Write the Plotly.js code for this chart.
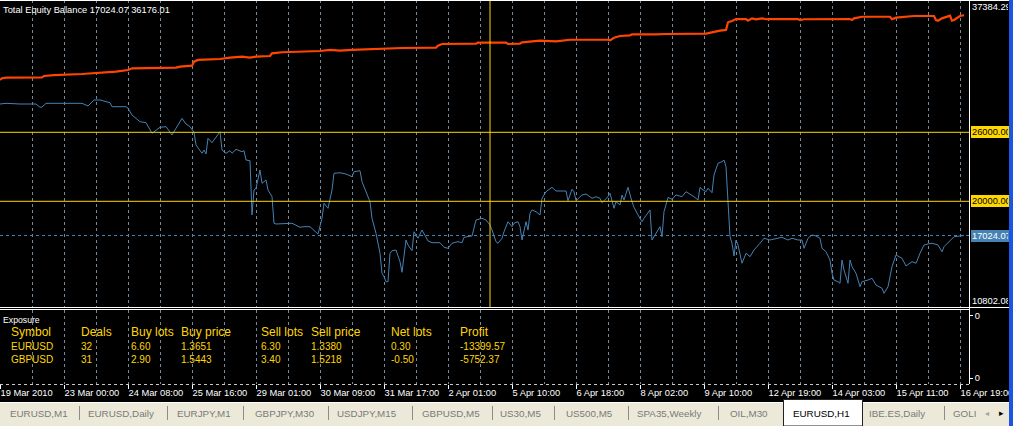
<!DOCTYPE html>
<html><head><meta charset="utf-8">
<script src="https://cdn.plot.ly/plotly-3.0.1.min.js"></script>
<style>html,body{margin:0;padding:0;background:#000;overflow:hidden}#chart{width:1013px;height:426px}</style>
</head><body><div id="chart"></div>
<script>
// ---------------- data (bar index = hourly bar from 19 Mar 2010) ----------------
const equityBars = [
0,3,10,18,20,21,23,41,44,47,
50,53,55,56,63,64,66,70,73,76,
80,83,86,88,91,93,95,97,98,101,
102,103,104,106,108,110,111,113,115,116,
118,121,122,123,125,126,127,128,130,131,
133,134,136,137,138,146,150,152,155,157,
159,161,162,164,166,167,170,173,176,177,
180,181,183,185,186,188,190,191,192,193,
194,195,196,198,200,201,203,204,206,207,
209,211,214,216,220,222,224,226,229,231,
232,235,236,238,241,243,245,246,248,249,
251,252,254,256,257,259,260,261,262,263,
264,265,266,268,270,271,273,276,278,283,
284,286,287,288,291,293,296,298,300,301,
304,305,307,308,310,311,312,314,316,317,
319,321,322,325,326,328,330,331,332,334,
336,338,341,343,346,347,349,350,351,353,
354,356,357,359,361,362,363,364,365,366,
367,368,369,371,373,375,377,380,382,385,
388,391,394,396,399,401,402,404,406,408,
410,411,413,415,416,417,419,420,421,422,
424,425,426,428,430,431,434,436,438,441,
442,444,446,448,451,453,456,458,460,462,
464,466,469,471,472,475,477,480,482];
const equityValues = [
28460,28520,28460,28460,28175,28200,28520,28520,28290,28810,
28810,28660,28575,28225,28225,28090,27500,26920,26835,25915,
26435,26490,25765,26350,27215,26720,26490,26000,24900,24175,
24460,24115,25480,25095,25565,26050,24460,24175,24400,24175,
24520,24315,24400,23590,23530,18810,20985,21130,22720,21565,
21850,20985,20400,18090,18025,18090,17740,17790,17790,17505,
17155,18520,19825,19390,20985,22435,22485,22375,22140,22575,
22660,21705,20835,19965,18520,17215,15480,13740,13445,13010,
13010,15480,15705,15765,14750,13825,16635,16200,15705,17355,
16785,17505,16550,16400,16400,16000,15915,16350,16490,16400,
16870,16985,16985,18375,18520,18375,17940,17505,16490,16350,
16785,17355,18225,17790,18090,18225,17790,16635,17505,18225,
17505,18955,19245,19095,18810,20260,20835,21215,20895,20895,
20050,21045,20835,20050,20550,20635,20260,20400,20260,19880,
20400,20695,19390,19965,19680,20550,20115,21215,19965,19480,
18810,18225,18520,19245,16635,17215,17790,16920,19100,20330,
20175,20550,20400,20835,20550,20400,20115,21215,21045,20835,
21130,20750,22285,23305,23445,23590,23010,20115,16920,16350,
15245,16635,16200,14610,15480,15185,15765,16350,16785,16635,
16785,16870,16635,16785,16635,16635,15915,16785,17070,16985,
16785,15915,15620,14895,13740,13155,13010,12870,14895,14025,
12870,14895,14315,13740,12575,13010,13155,13305,12720,12435,
12000,12575,14315,15330,15045,14375,14750,14610,15480,16200,
16290,16350,16200,15615,16050,16550,16920,16985,17024.07];
const balanceBars = [
0,1,3,21,22,27,41,46,50,58,
64,66,88,90,96,97,99,105,110,115,
121,125,128,135,136,141,152,160,165,170,
176,187,201,218,219,221,238,239,253,254,
260,261,267,270,278,283,285,304,305,307,
310,315,316,328,333,353,356,360,363,364,
366,368,373,374,376,378,381,383,385,399,
400,402,425,426,427,431,445,446,448,457,
467,468,469,471,475,476,477,479,480,482];
const balanceValues = [
30550,30700,30750,30780,30900,30980,31070,31130,31180,31270,
31420,31565,31620,31705,31790,32140,32290,32350,32375,32490,
32575,32490,32575,32635,32870,32960,33010,33070,33160,33100,
33160,33245,33330,33360,33530,33680,33705,33790,33790,33680,
33705,33825,33880,33965,33910,33965,34050,34050,34000,34225,
34375,34435,34520,34520,34550,34575,34700,34835,34900,35565,
35680,35850,35850,35705,35910,35830,35910,35830,35850,35850,
35765,35830,35850,35765,35910,36050,36050,35830,35965,36115,
36115,35765,35705,35910,36140,35705,35765,36050,36115,36176.01];
const timeTickBars = [0,32,64,96,128,160,192,224,256,288,320,352,384,416,448,480];
const timeTickLabels = ['19 Mar 2010','23 Mar 00:00','24 Mar 08:00','25 Mar 16:00','29 Mar 01:00','30 Mar 09:00',
  '31 Mar 17:00','2 Apr 01:00','5 Apr 10:00','6 Apr 18:00','8 Apr 02:00','9 Apr 10:00','12 Apr 19:00',
  '14 Apr 03:00','15 Apr 11:00','16 Apr 19:00'];
const gridBars = [16,32,48,64,80,96,112,128,144,160,176,192,208,224,240,256,272,288,304,320,336,352,368,384,400,416,432,448,464,480];
const minorGridBars = [16,48,80,112,144,176,208,240,272,304,336,368,400,432,464];
const levelValues = [26000, 20000];
const equityLast = 17024.07;
const balanceLast = 36176.01;
const scaleMax = 37384.29;
const scaleMin = 10802.08;
const markerBars = [245];
const exposureHeaders = ['Symbol','Deals','Buy lots','Buy price','Sell lots','Sell price','Net lots','Profit'];
const exposureRow1 = ['EURUSD','32','6.60','1.3651','6.30','1.3380','0.30','-13399.57'];
const exposureRow2 = ['GBPUSD','31','2.90','1.5443','3.40','1.5218','-0.50','-5752.37'];
const tabLabels = ['EURUSD,M1','EURUSD,Daily','EURJPY,M1','GBPJPY,M30','USDJPY,M15','GBPUSD,M5','US30,M5',
  'US500,M5','SPA35,Weekly','OIL,M30','EURUSD,H1','IBE.ES,Daily','GOLI'];
const activeTab = 'EURUSD,H1';

// ---------------- layout geometry ----------------
const W = 1013, H = 426;
const px = x => x / W, py = y => 1 - y / H;
const plotRight = 969, mainBottom = 307.5, subTop = 309.5, subBottom = 384, tabTop = 402, borderX = 1009;
const xDom = [0, px(plotRight)];
const xRange = [0, 484.5];
const yRange = [10765, 37504.4];
const colCols = [11, 81, 131, 181, 261, 311, 391, 460];
const tabX = [10, 88, 177, 255, 337, 422, 500, 566, 637, 730, 793, 869, 953];
const sepX = [79, 167, 243, 328, 412, 492, 554, 628, 718, 944];
const GOLD = '#FFD700', STEEL = '#4682B4', ORANGE = '#FF4500', GRID = '#778899';
const FONT = 'Liberation Sans, Arial, sans-serif';

const traces = [
  {x: balanceBars, y: balanceValues, type: 'scatter', mode: 'lines', xaxis: 'x', yaxis: 'y',
   line: {color: ORANGE, width: 2.2}, hoverinfo: 'skip'},
  {x: equityBars, y: equityValues, type: 'scatter', mode: 'lines', xaxis: 'x', yaxis: 'y',
   line: {color: STEEL, width: 1}, hoverinfo: 'skip'},
  {x: [], y: [], type: 'scatter', mode: 'lines', xaxis: 'x2', yaxis: 'y2', hoverinfo: 'skip'}
];

const shapes = [];
const hline = (y, x0, x1, color, dash) => shapes.push({type: 'line', xref: 'paper', yref: 'paper',
  x0: px(x0), x1: px(x1), y0: py(y), y1: py(y), line: {color, width: 1, dash: dash || 'solid'}, layer: 'above'});
const vline = (x, y0, y1, color) => shapes.push({type: 'line', xref: 'paper', yref: 'paper',
  x0: px(x), x1: px(x), y0: py(y0), y1: py(y1), line: {color, width: 1}, layer: 'above'});

levelValues.forEach(v => shapes.push({type: 'line', xref: 'paper', x0: 0, x1: px(plotRight), yref: 'y', y0: v, y1: v,
  line: {color: GOLD, width: 1}, layer: 'above'}));
shapes.push({type: 'line', xref: 'paper', x0: 0, x1: px(plotRight), yref: 'y', y0: equityLast, y1: equityLast,
  line: {color: STEEL, width: 1, dash: '3px,3px'}, layer: 'above'});
markerBars.forEach(b => shapes.push({type: 'line', xref: 'x', x0: b, x1: b, yref: 'paper', y0: py(mainBottom), y1: 1,
  line: {color: GOLD, width: 1}, layer: 'above'}));
// window borders
hline(0.5, 0, borderX, '#ffffff');
hline(mainBottom, 0, borderX, '#ffffff');
hline(subTop, 0, plotRight, '#ffffff');
vline(plotRight + 0.5, 0, subBottom, '#ffffff');
hline(subBottom + 0.5, 0, plotRight, '#c8c8c8', '3px,3px');
// tab bar
shapes.push({type: 'rect', xref: 'paper', yref: 'paper', x0: 0, x1: px(borderX), y0: 0, y1: py(tabTop),
  fillcolor: '#ECE9D8', line: {width: 0}, layer: 'above'});
hline(tabTop + 0.5, 0, borderX, '#ffffff');
sepX.forEach(x => vline(x + 0.5, 406, 420, '#8c8c8c'));
const ai = tabLabels.indexOf(activeTab);
shapes.push({type: 'rect', xref: 'paper', yref: 'paper', x0: px(783.5), x1: px(862.5), y0: py(426), y1: py(399.5),
  fillcolor: '#ffffff', line: {color: '#222222', width: 1}, layer: 'above'});
// right blue frame
shapes.push({type: 'rect', xref: 'paper', yref: 'paper', x0: px(borderX), x1: 1, y0: 0, y1: 1,
  fillcolor: '#1A55E3', line: {width: 0}, layer: 'above'});

const annotations = [];
const txt = (text, x, y, o) => annotations.push(Object.assign({text, xref: 'paper', yref: 'paper', x: px(x), y: py(y),
  xanchor: 'left', yanchor: 'middle', showarrow: false, borderpad: 0, borderwidth: 0,
  font: {family: FONT, size: 9.3, color: '#ffffff'}}, o || {}));

txt('Total Equity Balance ' + equityLast.toFixed(2) + ' ' + balanceLast.toFixed(2), 3, 10);
// price scale labels
const priceLab = (v, anchor, bg, fg) => annotations.push({text: v.toFixed(2), xref: 'paper', yref: 'y', x: px(971), y: v,
  xanchor: 'left', yanchor: anchor, showarrow: false, width: 36, align: 'left', borderpad: 1, borderwidth: 0,
  bgcolor: bg, font: {family: FONT, size: 9.3, color: fg}});
priceLab(scaleMax, 'top', 'rgba(0,0,0,0)', '#ffffff');
levelValues.forEach(v => priceLab(v, 'middle', GOLD, '#000000'));
priceLab(equityLast, 'middle', STEEL, '#ffffff');
priceLab(scaleMin, 'bottom', 'rgba(0,0,0,0)', '#ffffff');
// exposure panel
txt('Exposure', 3, 320, {font: {family: FONT, size: 8.7, color: '#ffffff'}});
exposureHeaders.forEach((h, i) => txt(h, colCols[i], 332, {font: {family: FONT, size: 12, color: GOLD}}));
exposureRow1.forEach((h, i) => txt(h, colCols[i], 346, {font: {family: FONT, size: 10, color: GOLD}}));
exposureRow2.forEach((h, i) => txt(h, colCols[i], 359.5, {font: {family: FONT, size: 10, color: GOLD}}));
// tabs
tabLabels.forEach((t, i) => txt(t, tabX[i], 413, {font: {family: FONT, size: 9.8, color: i === ai ? '#000000' : '#7a7a7a'}}));
txt('\u25C2', 985, 413, {font: {family: 'DejaVu Sans', size: 8, color: '#a0a0a0'}});
txt('\u25B8', 999, 413, {font: {family: 'DejaVu Sans', size: 9, color: '#000000'}});

const layout = {
  width: W, height: H, margin: {l: 0, r: 0, t: 0, b: 0, pad: 0},
  paper_bgcolor: '#000000', plot_bgcolor: '#000000', showlegend: false, hovermode: false,
  font: {family: FONT, size: 9.3, color: '#ffffff'},
  xaxis: {domain: xDom, range: xRange, anchor: 'y', tickmode: 'array', tickvals: gridBars, showticklabels: false,
    ticks: '', showgrid: true, gridcolor: GRID, griddash: '3px,3px', gridwidth: 1, zeroline: false, showline: false},
  yaxis: {domain: [py(mainBottom), 1], range: yRange, anchor: 'x', showgrid: false, zeroline: false,
    showticklabels: false, ticks: '', showline: false},
  xaxis2: {domain: xDom, range: xRange, anchor: 'y2', tickmode: 'array', tickvals: timeTickBars, ticktext: timeTickLabels,
    ticks: 'outside', ticklen: 4, tickwidth: 1, tickcolor: '#ffffff', ticklabelposition: 'outside right',
    ticklabeloverflow: 'allow',
    tickfont: {family: FONT, size: 9.3, color: '#ffffff'}, showgrid: true, gridcolor: GRID, griddash: '3px,3px',
    minor: {tickmode: 'array', tickvals: minorGridBars, showgrid: true, gridcolor: GRID, griddash: '3px,3px', ticks: ''},
    zeroline: false, showline: false},
  yaxis2: {domain: [py(subBottom), py(subTop)], range: [0, 1], anchor: 'x2', side: 'right', tickmode: 'array',
    tickvals: [0.08, 0.913], ticktext: ['0', '0'], ticks: 'outside', ticklen: 3, tickcolor: '#ffffff',
    tickfont: {family: FONT, size: 9.3, color: '#ffffff'}, showgrid: false, zeroline: false, showline: false},
  shapes, annotations
};
Plotly.newPlot('chart', traces, layout, {staticPlot: true, displayModeBar: false});
</script></body></html>
